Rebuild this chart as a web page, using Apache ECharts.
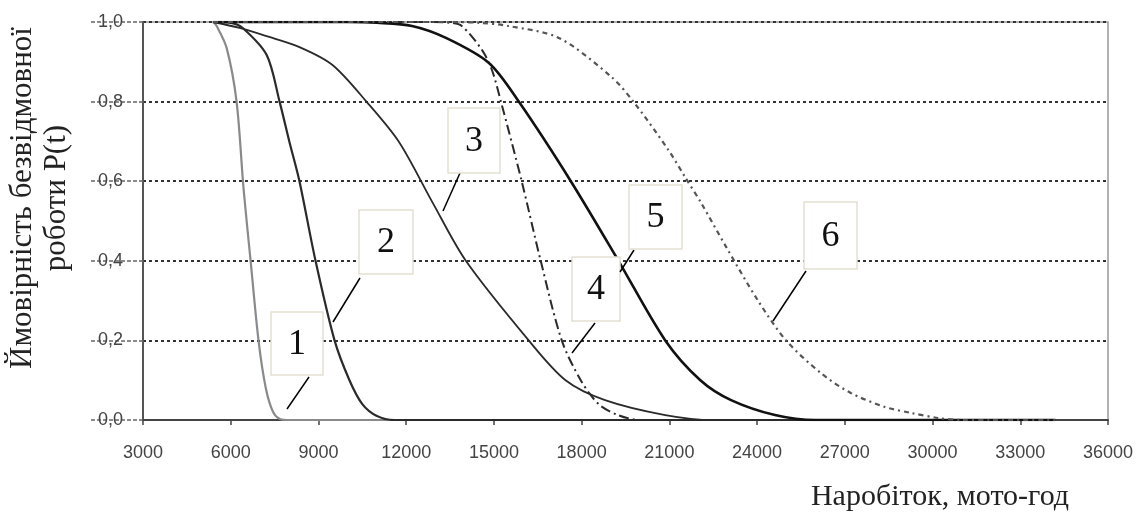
<!DOCTYPE html>
<html>
<head>
<meta charset="utf-8">
<script src="https://cdn.jsdelivr.net/npm/echarts@6/dist/echarts.min.js"></script>
<style>
html,body{margin:0;padding:0;background:#fff;}
#c{width:1142px;height:513px;}
</style>
</head>
<body>
<div id="c"></div>
<script>
// Curve data: [hours, probability]
const curve1 = [[5400,1],[5520,0.99],[5860,0.935],[6200,0.8],[6440,0.58],[6680,0.4],[6950,0.2],[7200,0.08],[7450,0.02],[7700,0.002],[8000,0],[9000,0],[34200,0]];
const curve2 = [[5400,1],[6000,0.998],[6410,0.985],[7230,0.917],[7670,0.8],[8010,0.698],[8350,0.6],[8900,0.4],[9550,0.2],[10060,0.1],[10500,0.04],[11000,0.01],[11600,0],[12600,0],[34200,0]];
const curve3 = [[5400,1],[6300,0.985],[7200,0.965],[8350,0.937],[9480,0.892],[10640,0.8],[11760,0.698],[12890,0.548],[14040,0.4],[16190,0.2],[17450,0.1],[18800,0.05],[20860,0.0125],[22500,0],[23500,0],[34200,0]];
const curve4 = [[5400,1],[12500,1],[13500,0.998],[13900,0.99],[14590,0.93],[14930,0.88],[15240,0.8],[15950,0.6],[16600,0.4],[17320,0.2],[17970,0.1],[18580,0.04],[19260,0.012],[20000,0],[21000,0],[34200,0]];
const curve5 = [[5400,1],[10000,1],[11000,0.998],[12200,0.99],[13360,0.96],[14830,0.897],[15850,0.8],[17630,0.6],[19260,0.4],[20860,0.2],[22060,0.1],[23110,0.05],[24610,0.0125],[26000,0],[27000,0],[34200,0]];
const curve6 = [[5400,1],[13500,1],[14500,0.998],[15500,0.99],[17220,0.96],[19020,0.862],[19770,0.8],[20970,0.678],[21540,0.61],[22090,0.545],[22940,0.435],[24030,0.3],[24990,0.2],[26180,0.118],[27200,0.068],[28360,0.033],[29250,0.018],[30200,0.005],[31000,0],[32000,0],[34200,0]];
const curveLabels = ['1','2','3','4','5','6'];
const xTitle = 'Наробіток, мото-год';
const yTitle = 'Ймовірність безвідмовної\nроботи P(t)';

const chart = echarts.init(document.getElementById('c'), null, {renderer:'canvas'});
const styles = [
  {color:'#8a8a8a', width:2.2, type:'solid'},
  {color:'#2a2a2a', width:2.2, type:'solid'},
  {color:'#2a2a2a', width:1.8, type:'solid'},
  {color:'#2a2a2a', width:2, type:[10,4,2,4]},
  {color:'#111', width:2.6, type:'solid'},
  {color:'#555', width:2.2, type:[5,4,2,4]}
];
const datas = [curve1,curve2,curve3,curve4,curve5,curve6];
const series = datas.map((d,i)=>({
  type:'line', name:curveLabels[i], data:d, showSymbol:false,
  smooth:0.3,
  lineStyle:{color:styles[i].color, width:styles[i].width, type:styles[i].type},
  z: 3+i
}));

const boxes = [
  {b:[271,312,52,63], l:[309,377,287,409]},
  {b:[359,210,54,64], l:[360,278,333,322]},
  {b:[448,108,52,65], l:[460,173,443,211]},
  {b:[572,257,48,64], l:[595,323,572,353]},
  {b:[629,185,53,64], l:[634,250,620,272]},
  {b:[804,202,53,67], l:[806,271,773,321]}
];
const graphics = [];
boxes.forEach((o,i)=>{
  graphics.push({type:'line', shape:{x1:o.l[0],y1:o.l[1],x2:o.l[2],y2:o.l[3]}, style:{stroke:'#000',lineWidth:1.5}, z:100});
  graphics.push({type:'rect', shape:{x:o.b[0],y:o.b[1],width:o.b[2],height:o.b[3]}, style:{fill:'#fff',stroke:'#e4e0d2',lineWidth:1.5}, z:100});
  graphics.push({type:'text', x:o.b[0]+o.b[2]/2, y:o.b[1]+o.b[3]/2+1, style:{text:curveLabels[i], font:'36px "Liberation Serif"', fill:'#111', align:'center', verticalAlign:'middle'}, z:101});
});
graphics.push({type:'text', x:940, y:497, style:{text:xTitle, font:'30px "Liberation Serif"', fill:'#222', align:'center', verticalAlign:'middle'}});
graphics.push({type:'text', x:40, y:198, rotation:Math.PI/2, style:{text:yTitle, font:'31px "Liberation Serif"', fill:'#222', align:'center', verticalAlign:'middle', lineHeight:34}});

chart.setOption({
  animation:false,
  backgroundColor:'#fff',
  grid:{left:143, right:34, top:22, bottom:93, show:true, borderColor:'#999', borderWidth:1.5, backgroundColor:'transparent'},
  xAxis:{type:'value', min:3000, max:36000, interval:3000,
    axisLine:{show:true, onZero:false, lineStyle:{color:'#444', width:2}},
    axisTick:{show:true, length:5, lineStyle:{color:'#444', width:1.5}},
    axisLabel:{margin:24, fontFamily:'"Liberation Sans", Arial', fontSize:18, color:'#444', formatter:v=>String(v)},
    splitLine:{show:false}},
  yAxis:{type:'value', min:0, max:1, interval:0.2,
    axisLine:{show:true, lineStyle:{color:'#555', width:2}},
    axisTick:{show:true, length:54, lineStyle:{color:'#666', width:1.5, type:[4,2]}},
    axisLabel:{margin:20, fontFamily:'"Liberation Sans", Arial', fontSize:18, color:'#444',
      formatter:v=>v.toFixed(1).replace('.',',')},
    splitLine:{show:true, lineStyle:{color:'#333', width:2, type:[3,3]}}},
  series:series,
  graphic:graphics
});
</script>
</body>
</html>
